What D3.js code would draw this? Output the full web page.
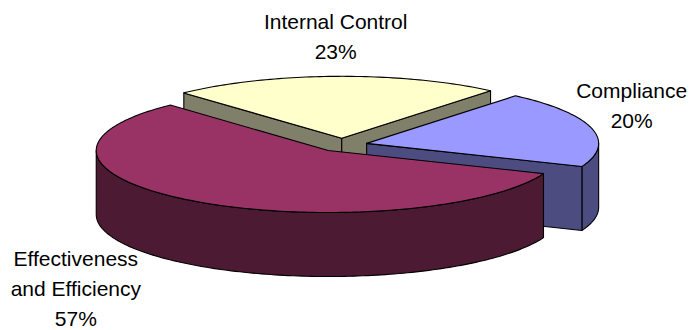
<!DOCTYPE html>
<html>
<head>
<meta charset="utf-8">
<script src="https://cdn.jsdelivr.net/npm/d3@7"></script>
<style>
  html, body { margin: 0; padding: 0; background: #fff; }
  svg { display: block; }
  text { font-family: "Liberation Sans", Arial, sans-serif; fill: #000; }
</style>
</head>
<body>
<svg id="chart" width="694" height="330"></svg>
<script>
// Share of audit findings by objective
const categories = ["Internal Control", "Compliance", "Effectiveness and Efficiency"];
const values = [23, 20, 57];
const labelLines = [["Internal Control", "23%"], ["Compliance", "20%"], ["Effectiveness", "and Efficiency", "57%"]];

// colours: top face, side faces
const topColors = ["#FFFFCC", "#9999FF", "#993366"];
const sideColors = ["#80806A", "#4C4C80", "#4D1A33"];

const W = 694, H = 330;
const center = { x: 342.4, y: 145 };
const rx = 232, ry = 62;          // ellipse of the tilted pie top
const depth = 64;                 // thickness of the slab
const explode = 25;               // radial pull-out of each slice
const startOffset = -1.5 * Math.PI / 180;
const fontSize = 21, lineGap = 30;
// nudges of each label block from the rim point of its slice (first baseline)
const labelNudge = [[0, -47], [40, -30], [-121, 0]];

const svg = d3.select("#chart");

const total = d3.sum(values);
const firstSpan = values[0] / total * 2 * Math.PI;
const pie = d3.pie().sort(null).value(d => d)
  .startAngle(-firstSpan / 2 + startOffset)
  .endAngle(2 * Math.PI - firstSpan / 2 + startOffset);
const arcs = pie(values);

// projected point: angle a (0 = back, clockwise), radius fraction r, height h (0 top, 1 bottom)
function proj(o, a, r, h) {
  return [o.x + r * rx * Math.sin(a), o.y - r * ry * Math.cos(a) + h * depth];
}
function arcPts(o, a0, a1, h) {
  const n = Math.max(2, Math.ceil(Math.abs(a1 - a0) / 0.02));
  return d3.range(n + 1).map(i => proj(o, a0 + (a1 - a0) * i / n, 1, h));
}
const line = d3.line();

const slices = arcs.map((d, i) => {
  const mid = (d.startAngle + d.endAngle) / 2;
  const apex = { x: center.x + explode * Math.sin(mid), y: center.y - explode * (ry / rx) * Math.cos(mid) };
  return { i, a0: d.startAngle, a1: d.endAngle, mid, apex };
});

// paint from back to front
const order = slices.slice().sort((p, q) => Math.cos(q.mid) - Math.cos(p.mid));

const g = svg.append("g").attr("stroke", "#000").attr("stroke-width", 1.1).attr("stroke-linejoin", "round");

order.forEach(s => {
  const o = s.apex;
  const gs = g.append("g").attr("class", "slice");
  // outer rim: visible where it faces the viewer (angles between 90° and 270°)
  [0, 2 * Math.PI, -2 * Math.PI].forEach(shift => {
    const lo = Math.max(s.a0, Math.PI / 2 + shift);
    const hi = Math.min(s.a1, 3 * Math.PI / 2 + shift);
    if (hi > lo) {
      const pts = arcPts(o, lo, hi, 0).concat(arcPts(o, hi, lo, 1));
      gs.append("path").attr("d", line(pts) + "Z").attr("fill", sideColors[s.i]);
    }
  });
  // cut faces along the slice edges
  const faces = [];
  if (Math.sin(s.a0) < 0) faces.push(s.a0);
  if (Math.sin(s.a1) > 0) faces.push(s.a1);
  faces.forEach(a => {
    const pts = [[o.x, o.y], proj(o, a, 1, 0), proj(o, a, 1, 1), [o.x, o.y + depth]];
    gs.append("path").attr("d", line(pts) + "Z").attr("fill", sideColors[s.i]);
  });
  // top face
  const topPts = [[o.x, o.y]].concat(arcPts(o, s.a0, s.a1, 0));
  gs.append("path").attr("d", line(topPts) + "Z").attr("fill", topColors[s.i]);
});

// labels
slices.forEach(s => {
  const front = Math.cos(s.mid) < 0 && Math.abs(Math.sin(s.mid)) < 0.9;
  const p = proj(s.apex, s.mid, 1, front ? 1 : 0);
  const t = svg.append("text")
    .attr("text-anchor", "middle")
    .attr("font-size", fontSize)
    .attr("x", p[0] + labelNudge[s.i][0])
    .attr("y", p[1] + labelNudge[s.i][1]);
  labelLines[s.i].forEach((ln, k) => {
    t.append("tspan")
      .attr("x", p[0] + labelNudge[s.i][0])
      .attr("dy", k === 0 ? 0 : lineGap)
      .text(ln);
  });
});
</script>
</body>
</html>
